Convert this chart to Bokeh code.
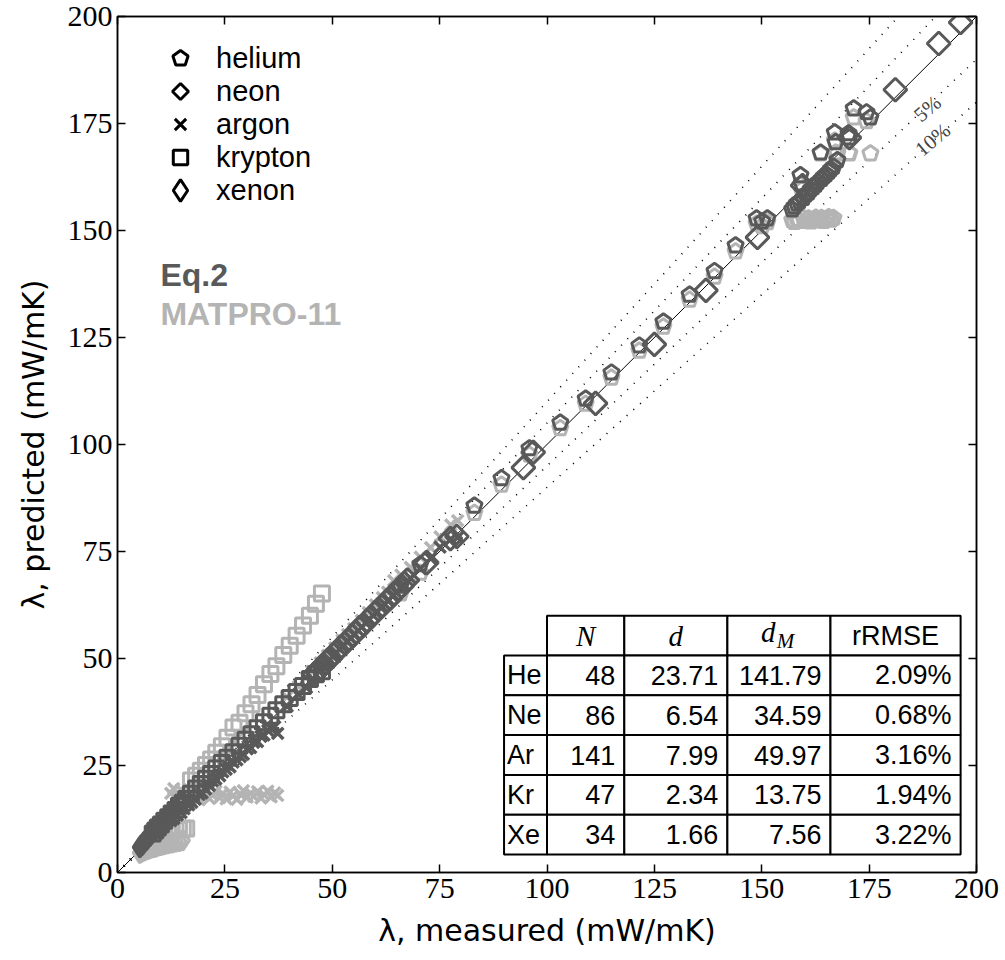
import numpy as np
from bokeh.plotting import figure
from bokeh.models import (ColumnDataSource, FixedTicker, LinearAxis, Range1d,
                          Legend, LegendItem, Label, Ngon)
from bokeh.core.properties import value
from bokeh.embed import file_html
from bokeh.resources import INLINE

DARK = "#595959"
LIGHT = "#b4b4b4"

# ---------------- data ----------------
# helium: measured, Eq.2 prediction, MATPRO-11 prediction
he_meas = [65.9, 70.5, 83.1, 89.4, 95.9, 103.1, 109.0, 115.0, 121.5, 127.1, 133.2, 139.0,
           143.9, 148.8, 150.1, 151.3, 157.1, 157.6, 158.2, 158.8, 159.0, 159.3, 159.7,
           160.3, 160.9, 161.4, 162.0, 162.6, 163.1, 163.7, 163.9, 164.4, 165.0, 165.6,
           166.1, 166.7, 167.0, 167.2, 167.6, 170.2, 170.4, 171.4, 174.4, 175.3]
he_eq2 = [67.0, 72.0, 85.7, 92.1, 99.1, 105.1, 110.7, 116.8, 123.1, 128.7, 135.0, 140.5,
          146.5, 152.8, 152.1, 152.8, 154.9, 155.6, 156.3, 156.8, 162.9, 161.0, 157.6,
          158.4, 158.9, 159.6, 160.1, 160.7, 161.3, 168.2, 162.0, 162.6, 163.1, 163.7,
          164.3, 164.9, 172.9, 170.6, 166.4, 172.7, 171.7, 178.5, 177.6, 176.4]
he_mat = [65.2, 70.0, 84.0, 90.6, 97.6, 103.8, 109.5, 115.6, 121.9, 127.5, 133.8, 139.2,
          145.1, 151.6, 151.0, 151.9, 152.4, 152.0, 152.7, 152.2, 160.6, 159.5, 152.9,
          152.3, 152.8, 152.1, 152.6, 153.0, 152.4, 168.0, 152.9, 152.2, 152.7, 153.1,
          152.5, 152.9, 171.0, 168.2, 168.0, 168.1, 168.0, 176.4, 175.5, 168.0]

# neon: measured, Eq.2 prediction
ne_meas = [45.8, 46.5, 47.3, 48.0, 48.9, 49.6, 50.4, 51.3, 52.1, 53.0, 53.8, 54.7, 55.5,
           56.4, 57.3, 58.1, 59.0, 59.9, 60.8, 61.7, 62.6, 63.5, 64.4, 65.3, 66.2, 67.5,
           72.0, 77.5, 79.0, 94.5, 96.8, 111.3, 125.0, 137.0, 149.0, 159.5, 170.4,
           181.1, 191.2, 196.3]
ne_eq2 = [46.3, 47.0, 47.9, 48.5, 49.6, 50.1, 51.0, 51.9, 52.8, 53.5, 54.5, 55.3, 56.1,
          57.2, 57.9, 58.8, 59.7, 60.6, 61.5, 62.4, 63.3, 64.1, 65.2, 66.0, 66.9, 68.3,
          72.4, 78.0, 78.5, 94.6, 98.2, 109.6, 123.4, 136.0, 148.4, 160.5, 171.7,
          182.9, 193.7, 198.6]

# argon: measured, Eq.2 prediction, MATPRO-11 prediction
ar_meas = [12.4, 13.1, 13.9, 14.8, 15.5, 16.6, 17.3, 18.1, 19.0, 19.7, 20.5, 21.4, 22.1,
           22.9, 23.8, 24.5, 25.3, 26.2, 26.9, 27.8, 28.6, 29.3, 30.2, 31.0, 31.7, 32.6,
           33.4, 34.1, 35.0, 35.8, 36.6, 37.3, 39.5, 42.1, 44.0, 45.3, 47.2, 48.9, 50.6,
           52.3, 53.6, 55.0, 56.8, 58.4, 60.1, 61.7, 62.9, 64.3, 66.0, 68.2, 70.5, 72.9,
           75.1, 77.6, 79.2]
ar_eq2 = [12.1, 12.6, 13.4, 14.0, 14.9, 15.8, 16.4, 17.1, 18.2, 18.6, 19.5, 20.3, 21.4,
          21.8, 22.6, 23.5, 24.1, 24.7, 25.8, 26.3, 27.1, 27.6, 28.9, 29.2, 30.4, 30.6,
          31.8, 32.1, 33.2, 33.6, 34.1, 32.5, 38.8, 41.6, 43.2, 45.0, 47.5, 49.2, 51.0,
          52.8, 54.0, 55.6, 57.3, 58.9, 60.7, 62.1, 63.5, 64.8, 66.7, 68.8, 71.0, 73.4,
          76.0, 77.9, 78.3]
ar_mat = [18.5, 19.6, 18.0, 19.3, 17.6, 18.9, 17.4, 18.2, 17.0, 17.8, 18.6, 17.3, 18.1,
          19.0, 17.5, 18.4, 17.2, 18.8, 17.9, 17.1, 18.3, 19.1, 17.6, 18.5, 17.8, 18.9,
          17.4, 18.2, 19.0, 17.7, 18.6, 18.0, 41.0, 43.5, 45.6, 47.0, 49.0, 50.7, 52.5,
          54.3, 55.6, 57.0, 58.9, 60.7, 62.5, 64.2, 65.5, 68.2, 69.5, 71.3, 73.7, 75.9,
          78.4, 81.2, 82.2]

# krypton: measured, Eq.2 prediction, MATPRO-11 prediction
kr_meas = [8.2, 8.8, 9.4, 10.1, 10.9, 11.8, 12.6, 13.5, 14.3, 15.2, 16.0, 17.1, 18.3,
           19.4, 20.6, 21.8, 23.0, 24.3, 25.6, 27.0, 28.4, 29.8, 31.2, 32.6, 34.1, 35.6,
           37.0, 38.6, 40.1, 41.7, 43.2, 44.8, 46.2, 47.6]
kr_eq2 = [9.1, 9.8, 10.5, 11.2, 12.1, 12.9, 13.8, 14.6, 15.6, 16.3, 17.2, 18.4, 19.6,
          20.7, 21.9, 23.0, 24.3, 25.6, 26.8, 28.1, 29.6, 31.0, 32.3, 33.7, 35.1, 36.6,
          37.9, 39.3, 40.8, 42.2, 43.6, 45.2, 46.3, 47.0]
kr_mat = [7.9, 8.3, 8.7, 9.0, 9.3, 9.5, 9.7, 9.9, 10.0, 10.2, 10.3, 21.5, 22.6,
          23.8, 25.1, 26.4, 28.0, 29.5, 31.5, 33.9, 35.0, 37.2, 39.3, 41.5, 44.0, 46.4,
          48.2, 50.8, 53.0, 55.3, 57.7, 60.0, 62.8, 65.2]

# xenon: measured, Eq.2 prediction, MATPRO-11 prediction
xe_meas = [5.2, 5.5, 5.8, 6.1, 6.4, 6.8, 7.1, 7.5, 7.9, 8.3, 8.7, 9.1, 9.6, 10.0, 10.5,
           11.0, 11.6, 12.2, 12.9, 13.6, 14.4, 15.2]
xe_eq2 = [5.9, 6.3, 6.5, 7.0, 7.3, 7.7, 8.2, 8.5, 9.0, 9.5, 9.9, 10.3, 10.9, 11.3, 11.9,
          12.4, 13.1, 13.6, 14.4, 15.0, 15.9, 16.7]
xe_mat = [4.6, 4.8, 4.9, 5.1, 5.2, 5.4, 5.5, 5.6, 5.8, 5.9, 6.0, 6.1, 6.3, 6.4, 6.5,
          6.6, 6.8, 6.9, 7.0, 7.2, 7.3, 7.5]

legend_labels = ["helium", "neon", "argon", "krypton", "xenon"]

# summary table
tab_gas = ["He", "Ne", "Ar", "Kr", "Xe"]
tab_N = [48, 86, 141, 47, 34]
tab_d = [23.71, 6.54, 7.99, 2.34, 1.66]
tab_dM = [141.79, 34.59, 49.97, 13.75, 7.56]
tab_rrmse = [2.09, 0.68, 3.16, 1.94, 3.22]

ticks = [0, 25, 50, 75, 100, 125, 150, 175, 200]
ref_ratios = [0.9, 0.95, 1.05, 1.1]

# ---------------- figure ----------------
FRAME_L, FRAME_B = 117, 872
p = figure(width=1005, height=960, output_backend="svg", toolbar_location=None,
           x_range=Range1d(0, 200), y_range=Range1d(0, 200),
           min_border_left=117, min_border_right=29, min_border_top=16,
           min_border_bottom=88)
p.grid.visible = False
p.outline_line_color = "black"
p.outline_line_width = 1.5
p.background_fill_color = "white"

TICK_FONT = "Liberation Serif"
LABEL_FONT = "Liberation Sans"
AXLAB_FONT = "DejaVu Sans"

for ax in (p.xaxis[0], p.yaxis[0]):
    ax.ticker = FixedTicker(ticks=ticks)
    ax.major_tick_in = 8
    ax.major_tick_out = 0
    ax.minor_tick_line_color = None
    ax.major_tick_line_width = 1.5
    ax.axis_line_width = 1.5
    ax.major_label_text_font = TICK_FONT
    ax.major_label_text_font_size = "30px"
    ax.major_label_text_color = "black"
    ax.axis_label_text_font = AXLAB_FONT
    ax.axis_label_text_font_size = "30px"
    ax.axis_label_text_font_style = "normal"
    ax.axis_label_text_color = "black"
p.xaxis.major_label_standoff = 6
p.yaxis.major_label_standoff = 5
p.xaxis.axis_label = "λ, measured (mW/mK)"
p.yaxis.axis_label = "λ, predicted (mW/mK)"
p.xaxis.axis_label_standoff = 12
p.yaxis.axis_label_standoff = 14

for loc in ("above", "right"):
    ax = LinearAxis(ticker=FixedTicker(ticks=ticks), major_tick_in=8, major_tick_out=0,
                    minor_tick_line_color=None, major_tick_line_width=1.5,
                    axis_line_width=1.5, major_label_text_font_size="8px",
                    major_label_text_color=None, major_label_standoff=0)
    p.add_layout(ax, loc)

# reference lines
ref = [0, 200]
p.line(ref, ref, line_color="black", line_width=1)
for k in ref_ratios:
    p.line(ref, [k * v for v in ref], line_color="black", line_width=1.6, line_dash="1 8")

# ---------------- markers ----------------
def src(meas, pred):
    return ColumnDataSource(dict(x=meas, y=pred))

def ngon(source, color, n, radius, lw=3, **kw):
    g = Ngon(x="x", y="y", radius=radius, radius_units="screen", n=n,
             fill_color=None, line_color=color, line_width=lw)
    return p.add_glyph(source, g, **kw)

S = dict(
    he=src(he_meas, he_eq2), he_m=src(he_meas, he_mat),
    ne=src(ne_meas, ne_eq2),
    ar=src(ar_meas, ar_eq2), ar_m=src(ar_meas, ar_mat),
    kr=src(kr_meas, kr_eq2), kr_m=src(kr_meas, kr_mat),
    xe=src(xe_meas, xe_eq2), xe_m=src(xe_meas, xe_mat),
)

# MATPRO-11 (light) first
ngon(S["he_m"], LIGHT, 5, 8)
p.scatter("x", "y", source=S["ar_m"], marker="x", size=16, line_color=LIGHT, line_width=3.5)
p.scatter("x", "y", source=S["kr_m"], marker="square", size=15, fill_color=None,
          line_color=LIGHT, line_width=3)
p.scatter("x", "y", source=S["xe_m"], marker="diamond", size=20, fill_color=None,
          line_color=LIGHT, line_width=3)

# Eq.2 (dark)
p.scatter("x", "y", source=S["xe"], marker="diamond", size=20, fill_color=None,
          line_color=DARK, line_width=3)
p.scatter("x", "y", source=S["kr"], marker="square", size=15, fill_color=None,
          line_color=DARK, line_width=3)
p.scatter("x", "y", source=S["ar"], marker="x", size=16, line_color=DARK, line_width=3.5)
ngon(S["ne"], DARK, 4, 11.5)
ngon(S["he"], DARK, 5, 8)

# ---------------- legend (one single-item legend per row) ----------------
# legend renderers: black copies that are hidden on the plot, shown only in the legend
leg_r = [
    ngon(S["he"], "black", 5, 8.5, lw=3, visible=False),
    ngon(S["ne"], "black", 4, 10.5, lw=3, visible=False),
    p.scatter("x", "y", source=S["ar"], visible=False, marker="x",
              line_color="black", line_width=3),
    p.scatter("x", "y", source=S["kr"], visible=False, marker="square", fill_color=None,
              line_color="black", line_width=3),
    p.scatter("x", "y", source=S["xe"], visible=False, marker="diamond", fill_color=None,
              line_color="black", line_width=3),
]
glyph_box = [40, 40, 40, 36, 54]
row_center = [58, 91, 124, 157, 190]
GX, LX = 180, 216
for lab, r, gb, rc in zip(legend_labels, leg_r, glyph_box, row_center):
    leg = Legend(items=[LegendItem(label=lab, renderers=[r])],
                 location=(GX - FRAME_L - gb / 2, FRAME_B - rc - gb / 2),
                 border_line_color=None, background_fill_alpha=0, padding=0, margin=0,
                 glyph_width=gb, glyph_height=gb, label_height=gb,
                 label_standoff=int(LX - GX - gb / 2),
                 inactive_fill_alpha=0, click_policy="none",
                 label_text_font=LABEL_FONT, label_text_font_size="29px",
                 label_text_color="black", label_text_baseline="middle")
    p.add_layout(leg)

p.add_layout(Label(x=10, y=139.5, text="Eq.2", text_font=LABEL_FONT,
                   text_font_size="32px", text_font_style="bold", text_color=DARK,
                   text_baseline="middle"))
p.add_layout(Label(x=10, y=130.4, text="MATPRO-11", text_font=LABEL_FONT,
                   text_font_size="32px", text_font_style="bold", text_color=LIGHT,
                   text_baseline="middle"))

# ratio labels
p.add_layout(Label(x=188.6, y=178.5, text="5%", angle=40, angle_units="deg",
                   text_font=TICK_FONT, text_font_size="21px", text_align="center",
                   text_baseline="middle"))
p.add_layout(Label(x=189.8, y=171.2, text="10%", angle=40, angle_units="deg",
                   text_font=TICK_FONT, text_font_size="21px", text_align="center",
                   text_baseline="middle"))

# ---------------- table ----------------
tx = [90, 100, 118, 142, 166, 196.3]        # column edges
ty = [60, 50.7, 41.4, 32.1, 22.8, 13.5, 4.2]  # row edges (top to bottom)
cl, cr, ct, cb = [], [], [], []
for c in range(1, 5):
    cl.append(tx[c]); cr.append(tx[c + 1]); ct.append(ty[0]); cb.append(ty[1])
for r in range(1, 6):
    for c in range(0, 5):
        cl.append(tx[c]); cr.append(tx[c + 1]); ct.append(ty[r]); cb.append(ty[r + 1])
p.quad(left=cl, right=cr, top=ct, bottom=cb, fill_color="white",
       line_color="black", line_width=2)

ymid = [(ty[i] + ty[i + 1]) / 2 for i in range(6)]
hdr_src = ColumnDataSource(dict(x=[(tx[1] + tx[2]) / 2, (tx[2] + tx[3]) / 2],
                                y=[ymid[0], ymid[0]], t=["N", "d"]))
p.text("x", "y", text="t", source=hdr_src, text_font=value(TICK_FONT),
       text_font_style="italic", text_font_size=value("29px"), text_align="center",
       text_baseline="middle")
p.text(x=[(tx[3] + tx[4]) / 2 - 2.5], y=[ymid[0] + 0.8], text=["d"],
       text_font=value(TICK_FONT), text_font_style="italic",
       text_font_size=value("29px"), text_align="center", text_baseline="middle")
p.text(x=[(tx[3] + tx[4]) / 2 + 1.5], y=[ymid[0] - 1.2], text=["M"],
       text_font=value(TICK_FONT), text_font_style="italic",
       text_font_size=value("21px"), text_align="center", text_baseline="middle")
p.text(x=[(tx[4] + tx[5]) / 2], y=[ymid[0]], text=["rRMSE"],
       text_font=value(LABEL_FONT), text_font_size=value("27px"),
       text_align="center", text_baseline="middle")

rows_y = ymid[1:]
p.text(x=[tx[0]] * 5, y=rows_y, text=tab_gas, x_offset=3, text_font=value(LABEL_FONT),
       text_font_size=value("27px"), text_align="left", text_baseline="middle")
cols = [[str(v) for v in tab_N], [f"{v:.2f}" for v in tab_d],
        [f"{v:.2f}" for v in tab_dM], [f"{v:.2f}%" for v in tab_rrmse]]
for c, vals in enumerate(cols):
    p.text(x=[tx[c + 2]] * 5, y=rows_y, text=vals, x_offset=-9,
           text_font=value(LABEL_FONT), text_font_size=value("27px"),
           text_align="right", text_baseline="middle")

open("out.html", "w").write(file_html(p, INLINE))
